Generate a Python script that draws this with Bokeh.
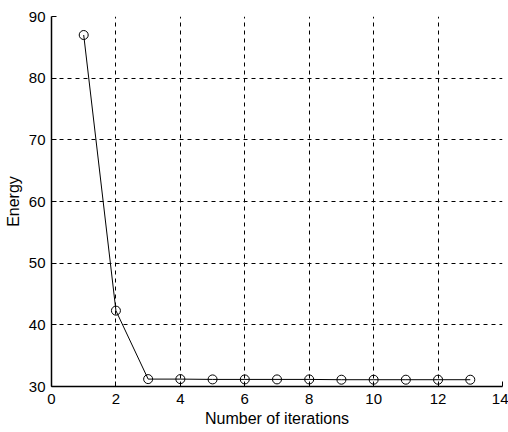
from bokeh.plotting import figure
from bokeh.embed import file_html
from bokeh.resources import INLINE
from bokeh.models import Range1d, FixedTicker

iterations = [1, 2, 3, 4, 5, 6, 7, 8, 9, 10, 11, 12, 13]
energy = [87.0, 42.3, 31.2, 31.2, 31.15, 31.15, 31.15, 31.15, 31.1, 31.1, 31.1, 31.1, 31.1]
x_ticks = [0, 2, 4, 6, 8, 10, 12, 14]
y_ticks = [30, 40, 50, 60, 70, 80, 90]

p = figure(width=508, height=432, output_backend="svg", toolbar_location=None,
           x_range=Range1d(0, 14), y_range=Range1d(30, 90))
p.min_border_left = 51
p.min_border_right = 6
p.min_border_top = 16
p.min_border_bottom = 46
p.outline_line_color = None
p.background_fill_color = "white"
p.border_fill_color = "white"

p.line(iterations, energy, line_color="black", line_width=1)
p.scatter(iterations, energy, marker="circle", size=9, fill_color=None,
          line_color="black", line_width=1)

for ax, ticks in ((p.xaxis, x_ticks), (p.yaxis, y_ticks)):
    ax.ticker = FixedTicker(ticks=ticks)
    ax.minor_tick_line_color = None
    ax.major_tick_in = 5
    ax.major_tick_out = 0
    ax.axis_line_color = "black"
    ax.axis_line_width = 1.5
    ax.major_tick_line_color = "black"
    ax.major_label_text_font = "Liberation Sans"
    ax.major_label_text_font_size = "15px"
    ax.major_label_text_color = "black"
    ax.axis_label_text_font = "Liberation Sans"
    ax.axis_label_text_font_size = "16px"
    ax.axis_label_text_font_style = "normal"
    ax.axis_label_text_color = "black"

p.xaxis.axis_label = "Number of iterations"
p.yaxis.axis_label = "Energy"
p.xaxis.major_label_standoff = 7
p.xaxis.axis_label_standoff = 3
p.yaxis.major_label_standoff = 6
p.yaxis.axis_label_standoff = 4

for g, ticks in ((p.xgrid, x_ticks), (p.ygrid, y_ticks)):
    g.ticker = FixedTicker(ticks=ticks)
    g.grid_line_color = "black"
    g.grid_line_dash = "4 4"
    g.grid_line_width = 1
    g.grid_line_alpha = 1.0

open("out.html", "w").write(file_html(p, INLINE))
